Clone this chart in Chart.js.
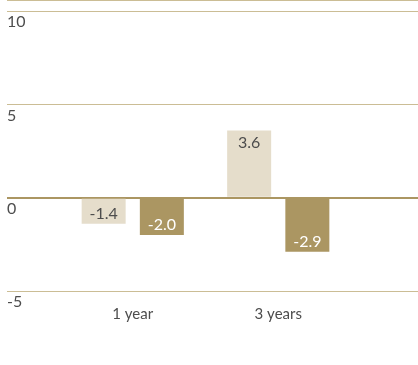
<!DOCTYPE html>
<html>
<head>
<meta charset="utf-8">
<script src="https://cdn.jsdelivr.net/npm/chart.js@4/dist/chart.umd.min.js"></script>
<style>
  html, body { margin: 0; padding: 0; background: #ffffff; }
  #wrap { width: 418px; height: 365px; position: relative; }
</style>
</head>
<body>
<div id="wrap"><canvas id="chart"></canvas></div>
<script>
// Performance periods and the two return series
const categories = ['1 year', '3 years'];
const seriesA = [-1.4, 3.6];
const seriesB = [-2.0, -2.9];

// Value axis range and labelled ticks (the top rule closes the plot)
const yMin = -5;
const yMax = 10.6;
const yTicks = [-5, 0, 5, 10];

const LIGHT = '#e5ddcb';
const DARK = '#ab9662';
const RULE = '#cbbd95';
const ZERO_RULE = '#ab9662';
const TEXT = '#4d4d4d';
const FONT = "'Lato', 'Open Sans', sans-serif";

const ruleColor = (ctx) => (ctx.tick && ctx.tick.value === 0 ? ZERO_RULE : RULE);
const ruleWidth = (ctx) => (ctx.tick && ctx.tick.value === 0 ? 2 : 1);
const setTicks = (scale) => {
  scale.ticks = yTicks.concat([yMax]).map((value) => ({ value }));
};
const noEdgePadding = (scale, width) => {
  scale.width = width;
  scale.paddingTop = 0;
  scale.paddingBottom = 0;
};

// Value labels written inside each bar, near its outer end
const barLabels = {
  id: 'barLabels',
  afterDatasetsDraw(chart) {
    const { ctx } = chart;
    ctx.save();
    ctx.font = `16px ${FONT}`;
    ctx.textAlign = 'center';
    ctx.textBaseline = 'middle';
    chart.data.datasets.forEach((ds, di) => {
      const meta = chart.getDatasetMeta(di);
      meta.data.forEach((bar, i) => {
        const v = ds.data[i];
        const y = v >= 0 ? bar.y + 12 : bar.y - 10;
        ctx.fillStyle = ds.labelColor;
        ctx.fillText(v.toFixed(1), bar.x, y);
      });
    });
    ctx.restore();
  }
};

new Chart(document.getElementById('chart'), {
  type: 'bar',
  data: {
    labels: categories,
    datasets: [
      { data: seriesA, backgroundColor: LIGHT, labelColor: TEXT },
      { data: seriesB, backgroundColor: DARK, labelColor: '#ffffff' }
    ]
  },
  options: {
    responsive: true,
    maintainAspectRatio: false,
    animation: false,
    layout: { padding: { left: 7, right: 0, top: 0, bottom: 36 } },
    datasets: { bar: { categoryPercentage: 0.8, barPercentage: 0.756 } },
    plugins: { legend: { display: false }, tooltip: { enabled: false } },
    scales: {
      x: {
        grid: { display: false },
        border: { display: false },
        ticks: { color: TEXT, font: { family: FONT, size: 15 }, padding: 6 }
      },
      y: {
        position: 'left',
        min: yMin,
        max: yMax,
        z: 1,
        afterBuildTicks: setTicks,
        afterFit: (scale) => noEdgePadding(scale, 53),
        border: { display: false },
        grid: { color: ruleColor, lineWidth: ruleWidth, tickLength: 53 },
        ticks: {
          crossAlign: 'far',
          labelOffset: 11,
          color: TEXT,
          font: { family: FONT, size: 16 },
          callback: (v) => (yTicks.includes(v) ? String(v) : '')
        }
      },
      yRight: {
        position: 'right',
        min: yMin,
        max: yMax,
        z: 1,
        afterBuildTicks: setTicks,
        afterFit: (scale) => noEdgePadding(scale, 67),
        border: { display: false },
        grid: { color: ruleColor, lineWidth: ruleWidth, tickLength: 67, drawOnChartArea: false },
        ticks: { display: false }
      }
    }
  },
  plugins: [barLabels]
});
</script>
</body>
</html>
